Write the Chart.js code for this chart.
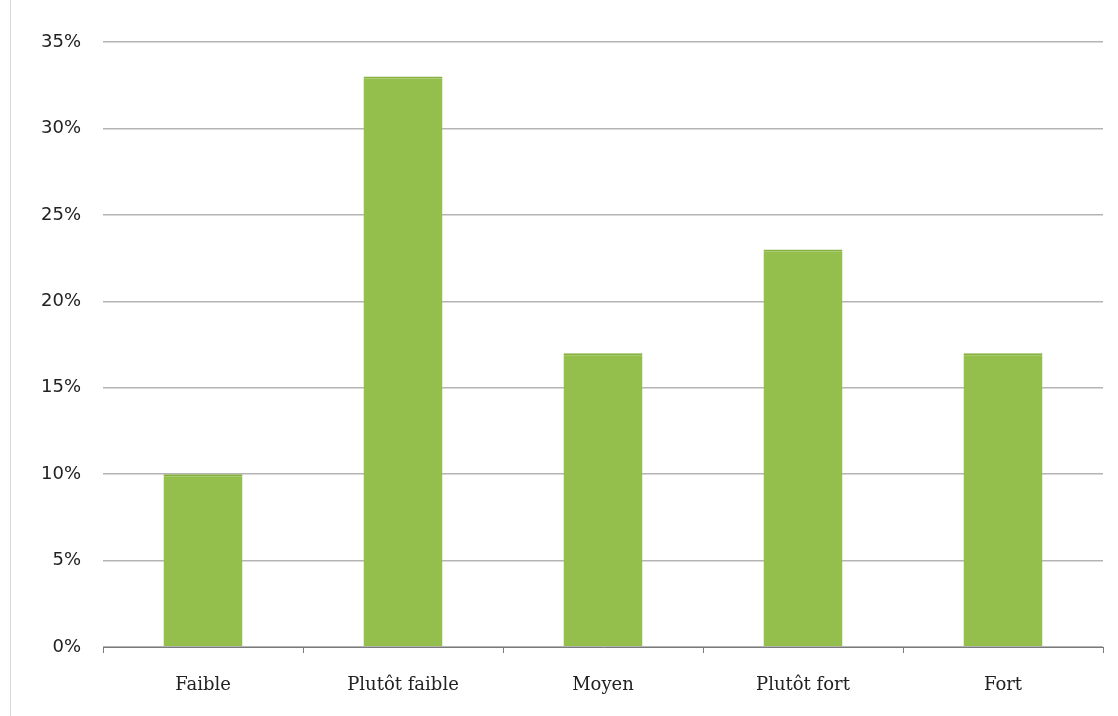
<!DOCTYPE html>
<html>
<head>
<meta charset="utf-8">
<script src="https://cdn.jsdelivr.net/npm/chart.js@4/dist/chart.umd.min.js"></script>
<style>
  html, body { margin: 0; padding: 0; background: #fff; }
  #wrap { position: relative; width: 1118px; height: 716px; }
  #edge { position: absolute; left: 10px; top: 0; width: 1px; height: 716px; background: #d8d8d8; }
</style>
</head>
<body>
<div id="wrap">
  <div id="edge"></div>
  <canvas id="chart" width="1118" height="716"></canvas>
</div>
<script>
// Categories and values (percent)
var categories = ['Faible', 'Plutôt faible', 'Moyen', 'Plutôt fort', 'Fort'];
var shares = [10, 33, 17, 23, 17];
var yTicks = [0, 5, 10, 15, 20, 25, 30, 35];

var ctx = document.getElementById('chart').getContext('2d');
new Chart(ctx, {
    type: 'bar',
    data: {
        labels: categories,
        datasets: [{
            data: shares,
            backgroundColor: '#95bf4c',
            borderColor: '#86b03f',
            borderWidth: { top: 2, left: 0, right: 0, bottom: 0 },
            borderSkipped: 'bottom',
            categoryPercentage: 1,
            barPercentage: 0.395
        }]
    },
    options: {
        responsive: false,
        animation: false,
        layout: { padding: { left: 10, right: 15, top: 42, bottom: 0 } },
        plugins: {
            legend: { display: false },
            tooltip: { enabled: false }
        },
        scales: {
            x: {
                grid: {
                    drawOnChartArea: false,
                    drawTicks: true,
                    tickLength: 6,
                    color: '#7a7a7a'
                },
                border: { color: '#7a7a7a', width: 1 },
                ticks: {
                    color: '#222',
                    padding: 22,
                    font: { family: 'DejaVu Serif', size: 18 }
                },
                afterFit: function (scale) { scale.height = 69; }
            },
            y: {
                min: 0,
                max: 35,
                afterBuildTicks: function (scale) {
                    scale.ticks = yTicks.map(function (v) { return { value: v }; });
                },
                grid: {
                    drawTicks: false,
                    color: '#b4b4b4',
                    lineWidth: 1.5
                },
                border: { display: false },
                ticks: {
                    color: '#222',
                    padding: 22,
                    font: { family: 'DejaVu Sans', size: 18 },
                    callback: function (v) { return v + '%'; }
                },
                afterFit: function (scale) { scale.width = 93; }
            }
        }
    }
});
</script>
</body>
</html>
